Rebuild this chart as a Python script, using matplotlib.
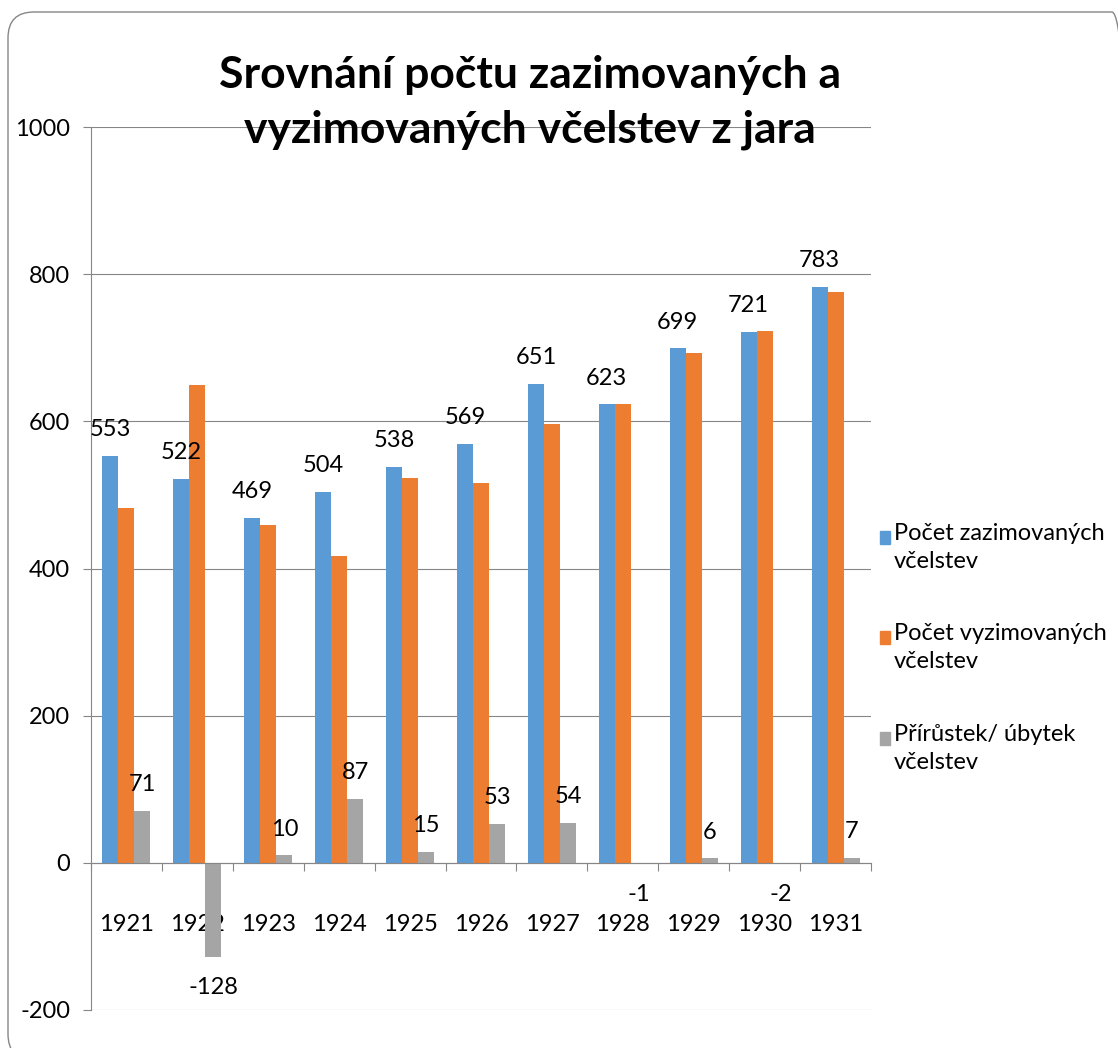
import numpy as np
import matplotlib
matplotlib.use("Agg")
import matplotlib.pyplot as plt
from matplotlib.patches import FancyBboxPatch, Rectangle
from matplotlib.transforms import IdentityTransform

plt.rcParams['font.family'] = ['Lato', 'DejaVu Sans']
plt.rcParams['axes.unicode_minus'] = False

# data
years = ['1921', '1922', '1923', '1924', '1925', '1926', '1927', '1928', '1929', '1930', '1931']
zazimovano = [553, 522, 469, 504, 538, 569, 651, 623, 699, 721, 783]
vyzimovano = [482, 650, 459, 417, 523, 516, 597, 624, 693, 723, 776]
prirustek = [71, -128, 10, 87, 15, 53, 54, -1, 6, -2, 7]

series_names = ['Počet zazimovaných\nvčelstev', 'Počet vyzimovaných\nvčelstev', 'Přírůstek/ úbytek\nvčelstev']
colors = ['#5B9BD5', '#ED7D31', '#A5A5A5']
grid_col = '#868686'

W, H = 1118, 1048
fig = plt.figure(figsize=(W / 100, H / 100), dpi=100)

# rounded chart border in pixels (runs off the right and bottom edge like the original)
border = FancyBboxPatch((8, -12), 1130, 1048, boxstyle="round,pad=0,rounding_size=26",
                        transform=IdentityTransform(), fill=False,
                        edgecolor=grid_col, linewidth=1.0)
fig.patches.append(border)

ax = fig.add_axes([91 / W, 38 / H, 780 / W, 883 / H])

x = np.arange(len(years))
bw = 0.226
for i, (vals, c) in enumerate(zip([zazimovano, vyzimovano, prirustek], colors)):
    ax.bar(x + (i - 1) * bw, vals, bw, color=c, zorder=2)

# data labels for first and last series
fs = 17
for xi, v in zip(x, zazimovano):
    ax.annotate(str(v), (xi - bw, v), xytext=(0, 19), textcoords='offset points',
                ha='center', va='center', fontsize=fs, color='black', zorder=5)
for xi, v in zip(x, prirustek):
    off = 19 if v >= 0 else -22
    ax.annotate(str(v), (xi + bw, v), xytext=(0, off), textcoords='offset points',
                ha='center', va='center', fontsize=fs, color='black', zorder=5)

ax.set_xlim(-0.5, len(years) - 0.5)
ax.set_ylim(-200, 1000)
ax.set_yticks(np.arange(-200, 1001, 200))
ax.yaxis.grid(True, color=grid_col, linewidth=0.8)
ax.set_axisbelow(True)

for s in ['top', 'right']:
    ax.spines[s].set_visible(False)
ax.spines['left'].set_color(grid_col)
ax.spines['left'].set_linewidth(0.8)
ax.spines['bottom'].set_position(('data', 0))
ax.spines['bottom'].set_color(grid_col)
ax.spines['bottom'].set_linewidth(0.8)

ax.set_xticks(x)
ax.set_xticklabels(years)
ax.set_xticks(np.arange(-0.5, len(years), 1), minor=True)
ax.tick_params(axis='x', which='major', length=0, pad=37, labelsize=fs)
ax.tick_params(axis='x', which='minor', length=6, color=grid_col, width=0.8, direction='out')
ax.tick_params(axis='y', length=6, color=grid_col, width=0.8, pad=9, labelsize=fs)
for lab in ax.get_xticklabels():
    lab.set_zorder(5)

# title
fig.text(530 / W, 1 - 75 / H, 'Srovnání počtu zazimovaných a', ha='center', va='center',
         fontsize=32, fontweight='bold')
fig.text(530 / W, 1 - 130 / H, 'vyzimovaných včelstev z jara', ha='center', va='center',
         fontsize=32, fontweight='bold')

# legend on the right
leg_y = [537, 637, 738]
for name, c, ly in zip(series_names, colors, leg_y):
    fig.patches.append(Rectangle((880 / W, 1 - (ly + 7) / H), 10 / W, 13 / H,
                                 transform=fig.transFigure, color=c))
    fig.text(894 / W, 1 - (ly - 14) / H, name, ha='left', va='top',
             fontsize=fs, linespacing=1.4)

fig.savefig('out.png', dpi=100)
